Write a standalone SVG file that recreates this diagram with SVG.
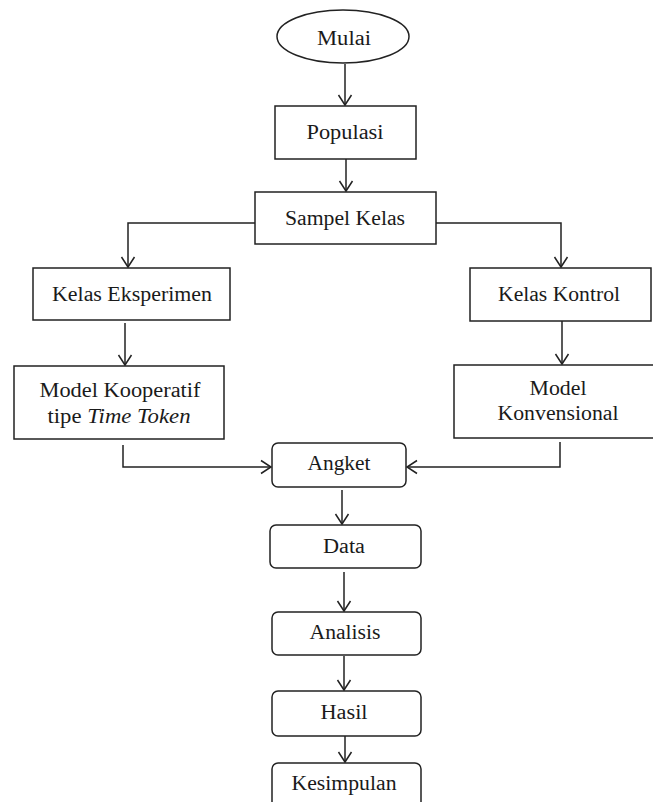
<svg xmlns="http://www.w3.org/2000/svg" width="653" height="802" viewBox="0 0 653 802">
<style>
.box{fill:#fff;stroke:#222;stroke-width:1.5}
.t{font-family:"Liberation Serif","Times New Roman",serif;font-size:20px;fill:#1a1a1a;text-anchor:middle}
.c{fill:none;stroke:#222;stroke-width:1.5}
</style>
<defs>
<marker id="ah" markerUnits="userSpaceOnUse" markerWidth="14" markerHeight="16" refX="11" refY="7" orient="auto" viewBox="0 0 14 14">
<path d="M1,0.5 L11,7 L1,13.5" fill="none" stroke="#222" stroke-width="1.5"/>
</marker>
</defs>
<rect width="653" height="802" fill="#fff"/>
<g id="connectors">
<path class="c" d="M345,64 V105" marker-end="url(#ah)"/>
<path class="c" d="M346,159 V191" marker-end="url(#ah)"/>
<path class="c" d="M255,223 H128 V267" marker-end="url(#ah)"/>
<path class="c" d="M436,223 H561 V267" marker-end="url(#ah)"/>
<path class="c" d="M125,323 V365" marker-end="url(#ah)"/>
<path class="c" d="M562,321 V364" marker-end="url(#ah)"/>
<path class="c" d="M123,445 V467 H271" marker-end="url(#ah)"/>
<path class="c" d="M560,442 V467 H407" marker-end="url(#ah)"/>
<path class="c" d="M342,490 V524" marker-end="url(#ah)"/>
<path class="c" d="M344,572 V611" marker-end="url(#ah)"/>
<path class="c" d="M344,656 V690" marker-end="url(#ah)"/>
<path class="c" d="M345,736 V762" marker-end="url(#ah)"/>
</g>
<g id="mulai">
<ellipse class="box" cx="343" cy="36.5" rx="66" ry="26.5"/>
<text class="t" x="344" y="45" textLength="54" lengthAdjust="spacingAndGlyphs">Mulai</text>
</g>
<g id="populasi">
<rect class="box" x="275" y="106" width="141" height="53"/>
<text class="t" x="345" y="139" textLength="77" lengthAdjust="spacingAndGlyphs">Populasi</text>
</g>
<g id="sampel">
<rect class="box" x="255" y="192" width="181" height="52"/>
<text class="t" x="345" y="225" textLength="120" lengthAdjust="spacingAndGlyphs">Sampel Kelas</text>
</g>
<g id="eksperimen">
<rect class="box" x="33" y="268" width="197" height="52"/>
<text class="t" x="132" y="301" textLength="160" lengthAdjust="spacingAndGlyphs">Kelas Eksperimen</text>
</g>
<g id="kontrol">
<rect class="box" x="470" y="268" width="181" height="53"/>
<text class="t" x="559" y="301" textLength="122" lengthAdjust="spacingAndGlyphs">Kelas Kontrol</text>
</g>
<g id="kooperatif">
<rect class="box" x="14" y="366" width="210" height="73"/>
<text class="t" x="120" y="397" textLength="161" lengthAdjust="spacingAndGlyphs">Model Kooperatif</text>
<text class="t" x="119" y="423" textLength="143" lengthAdjust="spacingAndGlyphs">tipe <tspan font-style="italic">Time Token</tspan></text>
</g>
<g id="konvensional">
<rect class="box" x="454" y="365" width="205" height="73"/>
<text class="t" x="558" y="395" textLength="57" lengthAdjust="spacingAndGlyphs">Model</text>
<text class="t" x="558" y="420" textLength="121" lengthAdjust="spacingAndGlyphs">Konvensional</text>
</g>
<g id="angket">
<rect class="box" x="272" y="443" width="134" height="44" rx="6"/>
<text class="t" x="339" y="470" textLength="63" lengthAdjust="spacingAndGlyphs">Angket</text>
</g>
<g id="data">
<rect class="box" x="270" y="525" width="151" height="43" rx="6"/>
<text class="t" x="344" y="553" textLength="42" lengthAdjust="spacingAndGlyphs">Data</text>
</g>
<g id="analisis">
<rect class="box" x="272" y="612" width="149" height="43" rx="6"/>
<text class="t" x="345" y="639" textLength="71" lengthAdjust="spacingAndGlyphs">Analisis</text>
</g>
<g id="hasil">
<rect class="box" x="272" y="691" width="149" height="45" rx="6"/>
<text class="t" x="344" y="719" textLength="47" lengthAdjust="spacingAndGlyphs">Hasil</text>
</g>
<g id="kesimpulan">
<rect class="box" x="272" y="763" width="149" height="52" rx="6"/>
<text class="t" x="344" y="790" textLength="105" lengthAdjust="spacingAndGlyphs">Kesimpulan</text>
</g>
</svg>
